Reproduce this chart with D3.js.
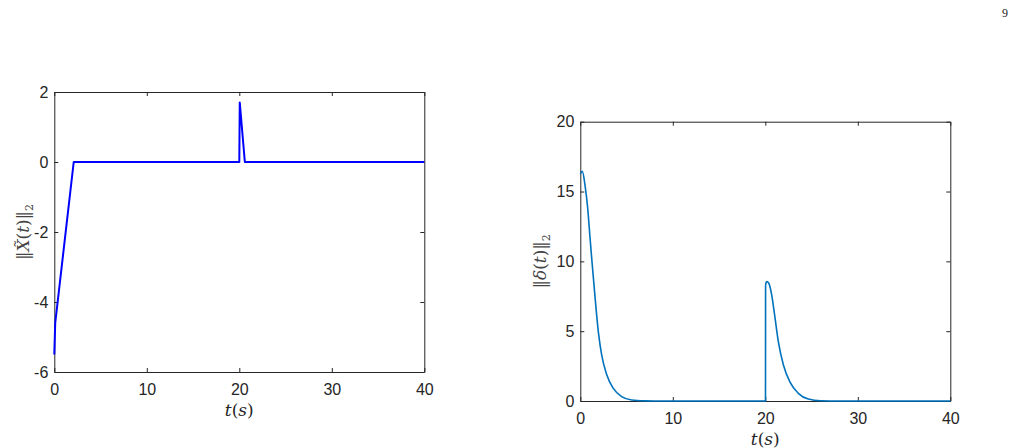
<!DOCTYPE html>
<html lang="en">
	<head>
		<title>Error norms</title>
		<script src="https://d3js.org/d3.v7.min.js"></script>
		<style>
			body { margin: 0; background: #fff; }
			.tick text { font-family: "Liberation Sans", Arial, sans-serif; font-size: 16px; fill: #262626; }
			.tick line, .domain { stroke: #262626; }
		</style>
	</head>
	<body>
		<script>

			// left panel: ||X~(t)||_2
			tLeft = [0, 0.1, 2.1, 20, 20.05, 20.6, 40];
			xErr = [-5.5, -4.6, 0, 0, 1.7, 0, 0];

			// right panel: ||delta(t)||_2
			tRight = [0, 0.22, 0.5, 0.8, 1.05, 1.26, 1.6, 1.95, 2.31, 2.85, 3.57, 4.47, 5.55, 7, 8, 20.02,
					  20.03, 20.1, 20.2, 20.4, 20.69, 21.05, 21.41, 21.95, 22.67, 23.57, 24.65, 26, 28, 40];
			deltaNorm = [16.27, 16.44, 15.5, 13.8, 11.7, 10, 7.4, 4.95, 3.3, 1.9, 0.9, 0.31, 0.07, 0.01, 0, 0,
						 8.25, 8.5, 8.55, 8.4, 7.6, 5.95, 4.25, 2.6, 1.35, 0.55, 0.14, 0.02, 0, 0];

			xTicks = [0, 10, 20, 30, 40];
			yTicksLeft = [-6, -4, -2, 0, 2];
			yTicksRight = [0, 5, 10, 15, 20];

			var width = 1014;
			var height = 448;

			var svg = d3.select("body").append("svg")
						.attr("width", width)
						.attr("height", height);

			// page number
			svg.append("text")
				.attr("x", 1005).attr("y", 17)
				.attr("text-anchor", "middle")
				.style("font-family", "Liberation Serif, serif")
				.style("font-size", "12px")
				.attr("fill", "#222")
				.text("9");

			function panel(opt) {
				var x = d3.scaleLinear().domain([0, 40]).range([opt.left, opt.right]);
				var y = d3.scaleLinear().domain(opt.ydomain).range([opt.bottom, opt.top]);
				var g = svg.append("g");

				g.append("g")
					.attr("transform", `translate(0,${opt.bottom})`)
					.call(d3.axisBottom(x).tickValues(xTicks).tickSize(-4).tickPadding(12).tickSizeOuter(0));
				g.append("g")
					.attr("transform", `translate(0,${opt.top})`)
					.call(d3.axisTop(x).tickValues(xTicks).tickSize(-4).tickFormat("").tickSizeOuter(0));
				g.append("g")
					.attr("transform", `translate(${opt.left},0)`)
					.call(d3.axisLeft(y).tickValues(opt.yticks).tickSize(-4).tickPadding(6).tickSizeOuter(0));
				g.append("g")
					.attr("transform", `translate(${opt.right},0)`)
					.call(d3.axisRight(y).tickValues(opt.yticks).tickSize(-4).tickFormat("").tickSizeOuter(0));

				// MATLAB style hyphen minus
				g.selectAll(".tick text").filter(function() { return this.textContent.startsWith("−"); })
					.text(function() { return this.textContent.replace("−", "-"); });

				var line = d3.line()
					.x(d => x(d[0]))
					.y(d => y(d[1]))
					.curve(opt.curve);

				g.append("path")
					.datum(d3.zip(opt.t, opt.v))
					.attr("fill", "none")
					.attr("stroke", opt.color)
					.attr("stroke-width", opt.lw)
					.attr("stroke-linejoin", "round")
					.attr("d", line);

				// x label t(s)
				var xl = g.append("text")
					.attr("x", (opt.left + opt.right) / 2)
					.attr("y", opt.xlabelY)
					.attr("text-anchor", "middle")
					.style("font-family", "DejaVu Serif, serif")
					.style("font-size", "17px")
					.attr("fill", "#262626");
				xl.append("tspan").style("font-style", "italic").text("t");
				xl.append("tspan").text("(");
				xl.append("tspan").style("font-style", "italic").text("s");
				xl.append("tspan").text(")");

				// y label
				var yl = g.append("text")
					.attr("transform", `translate(${opt.ylabelX},${(opt.top + opt.bottom) / 2}) rotate(-90)`)
					.attr("text-anchor", "middle")
					.style("font-family", "DejaVu Serif, serif")
					.style("font-size", "17px")
					.attr("fill", "#444");
				yl.append("tspan").text("‖");
				yl.append("tspan").style("font-style", "italic").text(opt.sym);
				yl.append("tspan").text("(");
				yl.append("tspan").style("font-style", "italic").text("t");
				yl.append("tspan").text(")‖");
				yl.append("tspan").attr("dy", 4).style("font-size", "11px").text("2");
			}

			panel({
				left: 54.3, right: 424.3, top: 92, bottom: 372,
				ydomain: [-6, 2], yticks: yTicksLeft,
				t: tLeft, v: xErr, color: "#0000ff", lw: 2, curve: d3.curveLinear,
				sym: "X\u0303", xlabelY: 416, ylabelX: 29
			});

			panel({
				left: 580.3, right: 950.3, top: 121.7, bottom: 401,
				ydomain: [0, 20], yticks: yTicksRight,
				t: tRight, v: deltaNorm, color: "#0072bd", lw: 1.6, curve: d3.curveMonotoneX,
				sym: "δ", xlabelY: 445, ylabelX: 546
			});

		</script>
	</body>
</html>
